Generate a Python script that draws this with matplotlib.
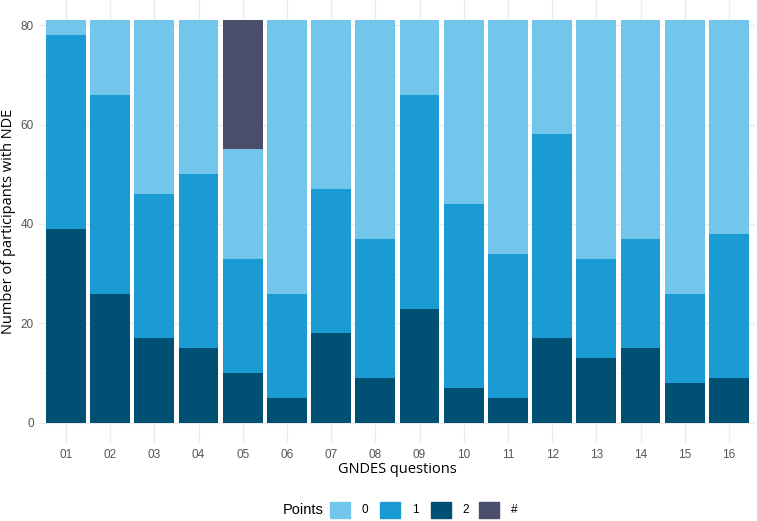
import numpy as np
import matplotlib.pyplot as plt
from matplotlib.patches import Patch

# GNDES questions, stacked counts per points category
questions = ["01", "02", "03", "04", "05", "06", "07", "08",
             "09", "10", "11", "12", "13", "14", "15", "16"]
pts2 = [39, 26, 17, 15, 10, 5, 18, 9, 23, 7, 5, 17, 13, 15, 8, 9]
pts1 = [39, 40, 29, 35, 23, 21, 29, 28, 43, 37, 29, 41, 20, 22, 18, 29]
pts0 = [3, 15, 35, 31, 22, 55, 34, 44, 15, 37, 47, 23, 48, 44, 55, 43]
ptsx = [0, 0, 0, 0, 26, 0, 0, 0, 0, 0, 0, 0, 0, 0, 0, 0]

c0 = "#73C6EB"
c1 = "#1B9BD4"
c2 = "#005073"
cx = "#4A4E6B"

plt.rcParams['font.family'] = ['Liberation Sans', 'DejaVu Sans']

fig = plt.figure(figsize=(7.57, 5.21), dpi=100)
ax = fig.add_axes([0.052, 0.1497, 0.946, 0.8503])

x = np.arange(len(questions))
b2 = np.array(pts2)
b1 = b2 + np.array(pts1)
b0 = b1 + np.array(pts0)
ax.bar(x, pts2, width=0.9, color=c2, zorder=3)
ax.bar(x, pts1, width=0.9, bottom=b2, color=c1, zorder=3)
ax.bar(x, pts0, width=0.9, bottom=b1, color=c0, zorder=3)
ax.bar(x, ptsx, width=0.9, bottom=b0, color=cx, zorder=3)

ax.set_xlim(-0.6, len(questions) - 0.4)
ax.set_ylim(-4.05, 85.05)
ax.set_yticks([0, 20, 40, 60, 80])
ax.set_yticks([10, 30, 50, 70], minor=True)
ax.set_xticks(x)
ax.set_xticklabels(questions)
ax.grid(True, which='major', color='#EBEBEB', linewidth=1.0, zorder=0)
ax.grid(True, which='minor', axis='y', color='#F3F3F3', linewidth=0.6, zorder=0)
for s in ax.spines.values():
    s.set_visible(False)
ax.tick_params(which='both', length=0, labelsize=8.5, labelcolor='#555555', pad=4)

ax.set_xlabel("GNDES questions", fontsize=10.5, family=['Open Sans', 'DejaVu Sans'], labelpad=1)
ax.set_ylabel("Number of participants with NDE", fontsize=10.5, family=['Open Sans', 'DejaVu Sans'], labelpad=3)

fig.text(0.374, 0.022, "Points", fontsize=10.5, va='center', ha='left')
leg1 = fig.legend(handles=[Patch(color=c0), Patch(color=c1), Patch(color=c2)],
                  labels=["0", "1", "2"], ncol=3, loc='center left',
                  bbox_to_anchor=(0.436, 0.022), frameon=False, fontsize=8.5,
                  handlelength=1.7, handleheight=1.7, handletextpad=1.0,
                  columnspacing=1.0, borderaxespad=0, borderpad=0)
leg2 = fig.legend(handles=[Patch(color=cx)], labels=["#"], loc='center left',
                  bbox_to_anchor=(0.633, 0.022), frameon=False, fontsize=8.5,
                  handlelength=1.7, handleheight=1.7, handletextpad=1.0,
                  borderaxespad=0, borderpad=0)

fig.savefig("out.png", dpi=100)
